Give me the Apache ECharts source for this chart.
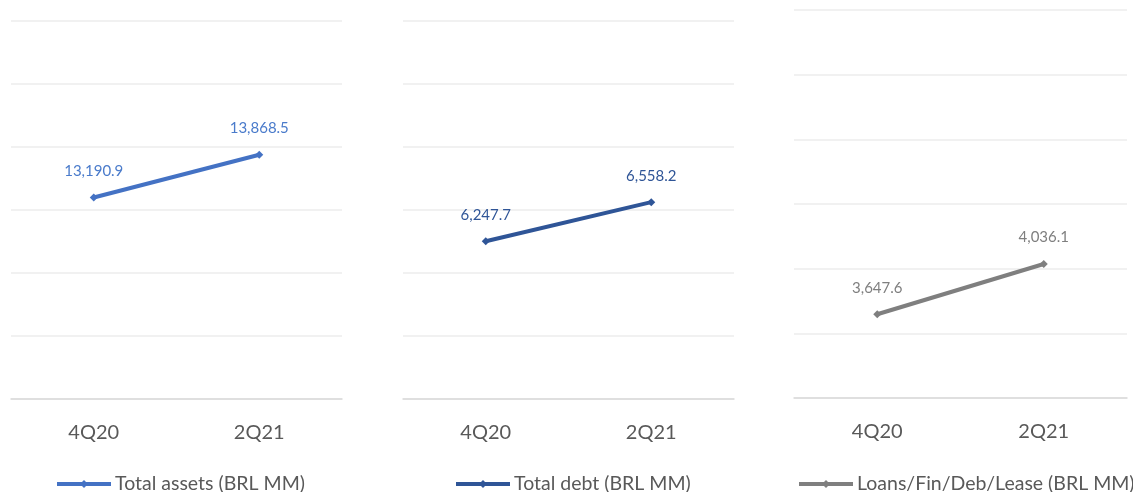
<!DOCTYPE html>
<html>
<head>
<meta charset="utf-8">
<script src="https://cdn.jsdelivr.net/npm/echarts@6/dist/echarts.min.js"></script>
<style>
html,body{margin:0;padding:0;background:#fff;}
#chart{width:1133px;height:492px;}
</style>
</head>
<body>
<div id="chart"></div>
<script>
const categories = ['4Q20', '2Q21'];
const totalAssets = [13190.9, 13868.5];
const totalDebt = [6247.7, 6558.2];
const loansFinDebLease = [3647.6, 4036.1];
const seriesNames = ['Total assets (BRL MM)', 'Total debt (BRL MM)', 'Loans/Fin/Deb/Lease (BRL MM)'];
const yMins = [10000, 5000, 3000];
const yMaxs = [16000, 8000, 6000];
const yIntervals = [1000, 500, 500];

const colors = ['#4472C4', '#2F5597', '#7F7F7F'];
const labelColors = ['#4A7BCB', '#2F5597', '#7F7F7F'];
const font = 'Lato, "Open Sans", sans-serif';
const grids = [
  {left: 11, top: 20.5, width: 331, height: 378},
  {left: 403, top: 20.5, width: 331, height: 378},
  {left: 794, top: 10, width: 333, height: 388}
];
const legendLefts = [55, 454, 797];
const datasets = [totalAssets, totalDebt, loansFinDebLease];

const fmt = v => v.toLocaleString('en-US', {minimumFractionDigits: 1, maximumFractionDigits: 1});

const chart = echarts.init(document.getElementById('chart'), null, {renderer: 'canvas'});
chart.setOption({
  animation: false,
  backgroundColor: '#fff',
  grid: grids,
  xAxis: grids.map((g, i) => ({
    type: 'category', gridIndex: i, data: categories, boundaryGap: true,
    axisLine: {show: true, lineStyle: {color: '#D9D9D9', width: 1.5}},
    axisTick: {show: false},
    axisLabel: {color: '#595959', fontSize: 20, fontFamily: font, margin: 24}
  })),
  yAxis: grids.map((g, i) => ({
    type: 'value', gridIndex: i, min: yMins[i], max: yMaxs[i], interval: yIntervals[i],
    axisLine: {show: false}, axisTick: {show: false}, axisLabel: {show: false},
    splitLine: {show: true, lineStyle: {color: '#EDEDED', width: 1.5}}
  })),
  legend: grids.map((g, i) => ({
    data: [seriesNames[i]], left: legendLefts[i], top: 474, padding: 0,
    itemWidth: 54, itemHeight: 10, itemGap: 4,
    lineStyle: {width: 4},
    textStyle: {color: '#595959', fontSize: 19.5, fontFamily: font, padding: [0, 0, 0, -1]}
  })),
  series: datasets.map((d, i) => ({
    name: seriesNames[i], type: 'line', xAxisIndex: i, yAxisIndex: i,
    data: d, symbol: 'diamond', symbolSize: 8,
    lineStyle: {color: colors[i], width: 4},
    itemStyle: {color: colors[i]},
    label: {show: true, position: 'top', distance: 15, color: labelColors[i],
      fontSize: 15, fontFamily: font, formatter: p => fmt(p.value)}
  }))
});
</script>
</body>
</html>
